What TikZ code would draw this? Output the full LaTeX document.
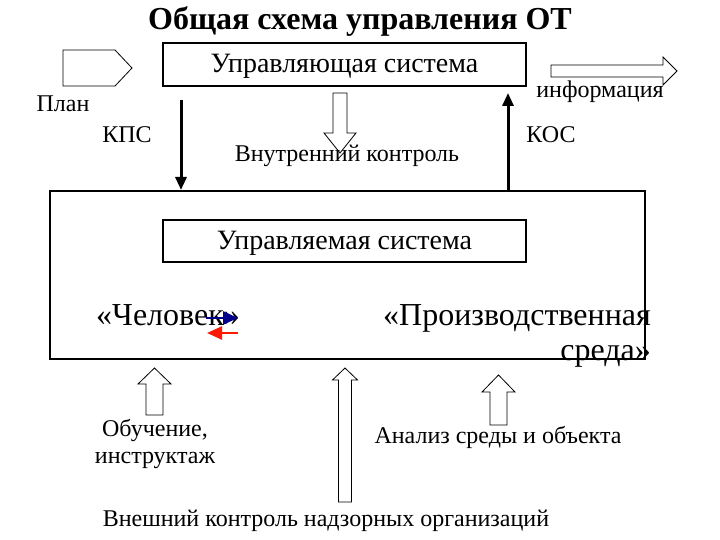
\documentclass[tikz,border=0pt]{standalone}
\usepackage{fontspec}
\setmainfont{Liberation Serif}
\usetikzlibrary{arrows.meta}

% hollow block arrow pointing up: centre x, half shaft, half head, tip y, head base y, tail y
\newcommand\blockup[6]{%
  \draw[hollow] (#1-#2,#6) -- (#1-#2,#5) -- (#1-#3,#5) -- (#1,#4)
    -- (#1+#3,#5) -- (#1+#2,#5) -- (#1+#2,#6) -- cycle;}

\begin{document}
\begin{tikzpicture}[
    x=1pt, y=-1pt,
    every node/.style={font=\fontsize{24}{27}\selectfont, inner sep=0pt},
    sysbox/.style={draw, line width=2pt, minimum width=363pt, minimum height=43pt,
      text height=22pt, text depth=6pt, font=\fontsize{28}{32}\selectfont},
    hollow/.style={draw, fill=white, line width=0.8pt, line join=miter},
    feed/.style={line width=3pt, -{Triangle[length=13pt, width=11pt]}},
    link/.style={line width=2.5pt, -{Triangle[length=15pt, width=13pt]}},
    big/.style={font=\fontsize{32}{35}\selectfont},
]
\useasboundingbox (0,0) rectangle (720,540);

\node[font=\bfseries\fontsize{32}{36}\selectfont] (title) at (360,22) {Общая схема управления ОТ};

% control and controlled systems
\node[sysbox] (ctrl) at (344.5,64.5) {Управляющая система};
\node[draw, line width=2pt, minimum width=595pt, minimum height=168pt] (outer) at (347.5,275) {};
\node[sysbox, minimum height=42pt] (inner) at (344.5,241) {Управляемая система};

% plan and information
\draw[hollow] (63,50) -- (115,50) -- (132,68) -- (115,86) -- (63,86) -- cycle;
\draw[hollow] (551,65) -- (663,65) -- (663,57) -- (677,71) -- (663,85) -- (663,77) -- (551,77) -- cycle;
\node (plan) at (63,104) {План};
\node (info) at (600,92) {информация};

% direct and feedback links
\coordinate (kps) at (181,100);
\coordinate (kos) at (508,93);
\draw[feed] (kps) -- (kps |- outer.north);
\draw[feed] (kos |- outer.north) -- (kos);
\node (kpslabel) at (127,135) {КПС};
\node (koslabel) at (551,135) {КОС};

% internal control
\draw[hollow] (333,93) -- (347,93) -- (347,133) -- (356,133) -- (340,153)
  -- (324,133) -- (333,133) -- cycle;
\node (intctl) at (347,156) {Внутренний контроль};

% man and environment
\node[big, anchor=base west] (man) at (96,325) {«Человек»};
\node[big, align=right, anchor=east] (env) at (651,336) {«Производственная\\среда»};
\draw[link, draw=blue!55!black, fill=blue!55!black] (206,318) -- (238,318);
\draw[link, draw=red!80!orange, fill=red!80!orange] (238,333) -- (207,333);

% outside influences
\blockup{154.5}{8.5}{16.5}{368}{384}{415}
\blockup{345}{6.5}{12.5}{368}{380}{502}
\blockup{498.5}{8.5}{16.5}{375}{392}{425}
\node[align=center] (train) at (155,443.5) {Обучение,\\инструктаж};
\node (analysis) at (498,437) {Анализ среды и объекта};
\node (extctl) at (326,521) {Внешний контроль надзорных организаций};
\end{tikzpicture}
\end{document}
